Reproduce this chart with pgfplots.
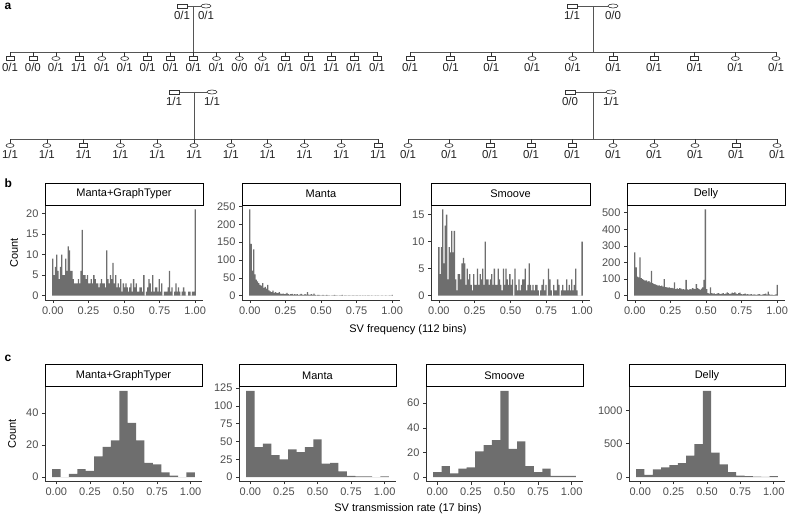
\documentclass[border=0pt]{standalone}
\usepackage{pgfplots}
\pgfplotsset{compat=1.18}
\usepackage{pgfplotstable}
\usepackage{fontspec}
\setmainfont{Liberation Sans}

\definecolor{barc}{HTML}{6E6E6E}
\definecolor{axc}{HTML}{333333}
\definecolor{tkc}{HTML}{4D4D4D}
\definecolor{pedc}{HTML}{555555}
\definecolor{labc}{HTML}{222222}

% pedigree symbols: parents without stub, children with a stub up to the sibship line
\pgfdeclareplotmark{pm}{\pgfpathrectangle{\pgfqpoint{-5pt}{-2pt}}{\pgfqpoint{10pt}{4pt}}\pgfusepathqfillstroke}
\pgfdeclareplotmark{pf}{\pgfpathellipse{\pgfpointorigin}{\pgfqpoint{5pt}{0pt}}{\pgfqpoint{0pt}{2pt}}\pgfusepathqfillstroke}
\pgfdeclareplotmark{cm}{%
  \pgfpathmoveto{\pgfqpoint{0pt}{2pt}}\pgfpathlineto{\pgfqpoint{0pt}{6.5pt}}\pgfusepathqstroke
  \pgfpathrectangle{\pgfqpoint{-4pt}{-2pt}}{\pgfqpoint{8pt}{4pt}}\pgfusepathqfillstroke}
\pgfdeclareplotmark{cf}{%
  \pgfpathmoveto{\pgfqpoint{0pt}{2pt}}\pgfpathlineto{\pgfqpoint{0pt}{6.5pt}}\pgfusepathqstroke
  \pgfpathellipse{\pgfpointorigin}{\pgfqpoint{4pt}{0pt}}{\pgfqpoint{0pt}{2pt}}\pgfusepathqfillstroke}

\pgfplotsset{
  pedline/.style={pedc, line width=0.6pt, mark=none},
  pedlab/.style={only marks, mark options={draw=axc, fill=white, line width=0.6pt},
    nodes near coords, point meta=explicit symbolic,
    every node near coord/.append style={anchor=base, yshift=-13.5pt, inner sep=0pt,
      font=\fontsize{11.5}{13}\selectfont, text=labc}},
  hist/.style={scale only axis, height=95pt, anchor=north west, clip=false,
    axis x line*=bottom, axis y line*=left,
    axis line style={draw=axc, line width=0.6pt},
    tick style={draw=axc, line width=0.6pt},
    tick align=outside, major tick length=3pt,
    xtick={0,0.25,0.5,0.75,1}, xticklabels={0.00,0.25,0.50,0.75,1.00},
    tick label style={font=\fontsize{11}{13}\selectfont, text=tkc},
    /pgf/number format/assume math mode=true, /pgf/number format/1000 sep={},
    scaled y ticks=false},
  bhist/.style={hist, xmin=-0.055, xmax=1.055},
  chist/.style={hist, xmin=-0.0844, xmax=1.0844},
}
\newcommand{\facet}[1]{%
  \draw[black, line width=0.7pt, fill=white] (rel axis cs:0,1) rectangle ([yshift=22pt]rel axis cs:1,1);
  \node[font=\fontsize{11}{13}\selectfont] at ([yshift=11pt]rel axis cs:0.5,1) {#1};}

% SV frequency, 112 bins
\pgfplotstableread{
x mg ma sm de
0 9 242 9 260
0.0090 5 145 4 170
0.0180 7 70 9 115
0.0270 10 130 16 110
0.0360 6 60 6 230
0.0450 4 45 13 105
0.0541 7 40 15 100
0.0631 10 35 3 95
0.0721 5 30 9 90
0.0811 5 28 8 92
0.0901 9 35 12 85
0.0991 6 22 8 88
0.1081 12 25 12 80
0.1171 11 20 3 150
0.1261 6 30 1 75
0.1351 6 15 4 70
0.1441 4 12 4 68
0.1532 3 10 3 65
0.1622 3 14 6 60
0.1712 3 8 7 62
0.1802 4 10 6 58
0.1892 3 8 2 60
0.1982 6 7 5 55
0.2072 16 10 3 100
0.2162 5 6 4 52
0.2252 5 5 2 50
0.2342 4 6 1 48
0.2432 5 4 4 50
0.2523 3 5 2 45
0.2613 3 8 2 47
0.2703 4 4 5 44
0.2793 3 3 2 80
0.2883 5 4 4 40
0.2973 4 5 3 44
0.3063 3 3 5 40
0.3153 3 4 2 45
0.3243 2 3 10 42
0.3333 3 4 3 38
0.3423 4 2 3 40
0.3514 3 3 2 36
0.3604 3 5 3 95
0.3694 2 3 4 38
0.3784 11 2 2 35
0.3874 4 4 5 40
0.3964 3 3 2 38
0.4054 5 10 2 45
0.4144 4 3 5 42
0.4234 8 2 3 40
0.4324 3 4 2 70
0.4414 5 2 1 45
0.4505 2 6 5 40
0.4595 3 2 2 35
0.4685 2 1 5 42
0.4775 4 2 3 50
0.4865 1 2 2 95
0.4955 3 1 4 520
0.5045 2 1 2 40
0.5135 3 2 3 15
0.5225 2 1 0 12
0.5315 1 1 5 50
0.5405 2 2 2 15
0.5495 3 1 1 12
0.5586 1 1 3 14
0.5676 4 0 1 10
0.5766 2 1 2 12
0.5856 3 1 3 15
0.5946 1 2 3 12
0.6036 1 1 5 10
0.6126 2 1 1 12
0.6216 2 0 2 15
0.6306 1 1 6 10
0.6396 5 1 2 12
0.6486 0 2 1 20
0.6577 1 0 2 15
0.6667 2 1 1 10
0.6757 4 1 2 12
0.6847 3 0 2 18
0.6937 1 1 1 15
0.7027 5 1 0 20
0.7117 1 0 1 12
0.7207 2 1 2 10
0.7297 2 1 3 15
0.7387 1 0 1 18
0.7477 4 1 2 10
0.7568 1 1 0 8
0.7658 3 0 5 10
0.7748 0 1 3 12
0.7838 1 0 1 8
0.7928 1 1 0 10
0.8018 1 0 2 6
0.8108 2 1 1 8
0.8198 6 0 1 10
0.8288 1 1 3 5
0.8378 2 1 2 8
0.8468 0 0 0 6
0.8559 1 1 1 5
0.8649 3 0 2 8
0.8739 1 0 1 10
0.8829 2 1 1 6
0.8919 1 0 3 5
0.9009 0 1 1 8
0.9099 1 0 2 10
0.9189 2 0 1 12
0.9279 1 1 3 6
0.9369 0 0 1 25
0.9459 0 0 2 8
0.9550 1 1 5 5
0.9640 1 0 1 6
0.9730 0 0 0 4
0.9820 1 1 0 5
0.9910 1 0 0 8
1 21 2 10 65
}\tabB

% SV transmission rate, 17 bins
\pgfplotstableread{
x mg ma sm de
0 5 121 4 121
0.0625 0 42 9 35
0.125 2 47 3 116
0.1875 5 31 7 146
0.25 4 25 8 180
0.3125 13 39 21 210
0.375 19 35 26 323
0.4375 23 42 30 495
0.5 54 53 70 1293
0.5625 34 19 23 369
0.625 23 20 29 192
0.6875 9 8 9 76
0.75 8 2 4 25
0.8125 3 1 7 15
0.875 1 1 1 10
0.9375 0 0 1 5
1 3 1 1 15
}\tabC

\begin{document}
\begin{tikzpicture}[font=\fontsize{11}{13}\selectfont]
\path[use as bounding box] (0,0) rectangle (789pt,518pt);

% ---------------- panel a: pedigrees
\begin{axis}[at={(0pt,0pt)}, anchor=south west, scale only axis, width=789pt, height=518pt,
  xmin=0, xmax=789, ymin=0, ymax=518, y dir=reverse, hide axis, clip=false]
% pedigree 1
\addplot[pedline] coordinates {(187,6)(201,6)};
\addplot[pedline] coordinates {(193,6)(193,52)};
\addplot[pedline] coordinates {(10,52)(377,52)};
\addplot[pedlab, mark=pm] table[meta=l] {
x y l
182 6 0/1
};
\addplot[pedlab, mark=pf] table[meta=l] {
x y l
206 6 0/1
};
\addplot[pedlab, mark=cm] table[meta=l] {
x y l
10 58.5 0/1
32.9 58.5 0/0
78.8 58.5 1/1
147.6 58.5 0/1
170.6 58.5 0/1
193.5 58.5 0/1
285.3 58.5 0/1
308.2 58.5 0/1
331.2 58.5 1/1
354.1 58.5 0/1
377 58.5 0/1
};
\addplot[pedlab, mark=cf] table[meta=l] {
x y l
55.9 58.5 0/1
101.8 58.5 0/1
124.7 58.5 0/1
216.5 58.5 0/1
239.4 58.5 0/0
262.3 58.5 0/1
};
% pedigree 2
\addplot[pedline] coordinates {(577,6)(608,6)};
\addplot[pedline] coordinates {(593,6)(593,52)};
\addplot[pedline] coordinates {(410,52)(776,52)};
\addplot[pedlab, mark=pm] table[meta=l] {
x y l
572 6 1/1
};
\addplot[pedlab, mark=pf] table[meta=l] {
x y l
613 6 0/0
};
\addplot[pedlab, mark=cm] table[meta=l] {
x y l
410 58.5 0/1
450.7 58.5 0/1
491.3 58.5 0/1
613.3 58.5 0/1
654 58.5 0/1
694.7 58.5 0/1
};
\addplot[pedlab, mark=cf] table[meta=l] {
x y l
532 58.5 0/1
572.7 58.5 0/1
735.3 58.5 0/1
776 58.5 0/1
};
% pedigree 3
\addplot[pedline] coordinates {(179,92)(207,92)};
\addplot[pedline] coordinates {(194,92)(194,139)};
\addplot[pedline] coordinates {(10,139)(378,139)};
\addplot[pedlab, mark=pm] table[meta=l] {
x y l
174 92 1/1
};
\addplot[pedlab, mark=pf] table[meta=l] {
x y l
212 92 1/1
};
\addplot[pedlab, mark=cm] table[meta=l] {
x y l
83.6 145.5 1/1
378 145.5 1/1
};
\addplot[pedlab, mark=cf] table[meta=l] {
x y l
10 145.5 1/1
46.8 145.5 1/1
120.4 145.5 1/1
157.2 145.5 1/1
194 145.5 1/1
230.8 145.5 1/1
267.6 145.5 1/1
304.4 145.5 1/1
341.2 145.5 1/1
};
% pedigree 4
\addplot[pedline] coordinates {(575,92)(606,92)};
\addplot[pedline] coordinates {(593,92)(593,139)};
\addplot[pedline] coordinates {(408,139)(777,139)};
\addplot[pedlab, mark=pm] table[meta=l] {
x y l
570 92 0/0
};
\addplot[pedlab, mark=pf] table[meta=l] {
x y l
611 92 1/1
};
\addplot[pedlab, mark=cm] table[meta=l] {
x y l
490 145.5 0/1
531 145.5 0/1
572 145.5 0/1
736 145.5 0/1
};
\addplot[pedlab, mark=cf] table[meta=l] {
x y l
408 145.5 0/1
449 145.5 0/1
613 145.5 0/1
654 145.5 0/1
695 145.5 0/1
777 145.5 0/1
};
\end{axis}

% ---------------- panel b
\begin{axis}[bhist, at={(45pt,313pt)}, width=158pt, ymin=-1.05, ymax=22.05, ytick={0,5,10,15,20}]
\addplot[ybar, bar width=0.009009, fill=barc, draw=none] table[x=x, y=mg] \tabB;
\facet{Manta+GraphTyper}
\end{axis}
\begin{axis}[bhist, at={(242pt,313pt)}, width=158pt, ymin=-12.1, ymax=254.1, ytick={0,50,100,150,200,250}]
\addplot[ybar, bar width=0.009009, fill=barc, draw=none] table[x=x, y=ma] \tabB;
\facet{Manta}
\end{axis}
\begin{axis}[bhist, at={(431pt,313pt)}, width=159pt, ymin=-0.8, ymax=16.8, ytick={0,5,10,15}]
\addplot[ybar, bar width=0.009009, fill=barc, draw=none] table[x=x, y=sm] \tabB;
\facet{Smoove}
\end{axis}
\begin{axis}[bhist, at={(627pt,313pt)}, width=158pt, ymin=-26, ymax=546, ytick={0,100,200,300,400,500}]
\addplot[ybar, bar width=0.009009, fill=barc, draw=none] table[x=x, y=de] \tabB;
\facet{Delly}
\end{axis}

% ---------------- panel c
\begin{axis}[chist, at={(45pt,131.5pt)}, width=157pt, ymin=-2.7, ymax=56.7, ytick={0,20,40}]
\addplot[ybar, bar width=0.0625, fill=barc, draw=none] table[x=x, y=mg] \tabC;
\facet{Manta+GraphTyper}
\end{axis}
\begin{axis}[chist, at={(239pt,131.5pt)}, width=157pt, ymin=-6.05, ymax=127.05, ytick={0,25,50,75,100,125}]
\addplot[ybar, bar width=0.0625, fill=barc, draw=none] table[x=x, y=ma] \tabC;
\facet{Manta}
\end{axis}
\begin{axis}[chist, at={(426pt,131.5pt)}, width=157pt, ymin=-3.5, ymax=73.5, ytick={0,20,40,60}]
\addplot[ybar, bar width=0.0625, fill=barc, draw=none] table[x=x, y=sm] \tabC;
\facet{Smoove}
\end{axis}
\begin{axis}[chist, at={(629pt,131.5pt)}, width=156pt, ymin=-64.65, ymax=1357.65, ytick={0,500,1000}]
\addplot[ybar, bar width=0.0625, fill=barc, draw=none] table[x=x, y=de] \tabC;
\facet{Delly}
\end{axis}

% ---------------- labels
\node[anchor=base west, font=\bfseries\fontsize{12}{14}\selectfont] at (1pt,508pt) {a};
\node[anchor=base west, font=\bfseries\fontsize{12}{14}\selectfont] at (1pt,330pt) {b};
\node[anchor=base west, font=\bfseries\fontsize{12}{14}\selectfont] at (1pt,156pt) {c};
\node[rotate=90] at (14pt,265pt) {Count};
\node[rotate=90] at (12pt,84pt) {Count};
\node at (408pt,188pt) {SV frequency (112 bins)};
\node at (408pt,9pt) {SV transmission rate (17 bins)};
\end{tikzpicture}
\end{document}
